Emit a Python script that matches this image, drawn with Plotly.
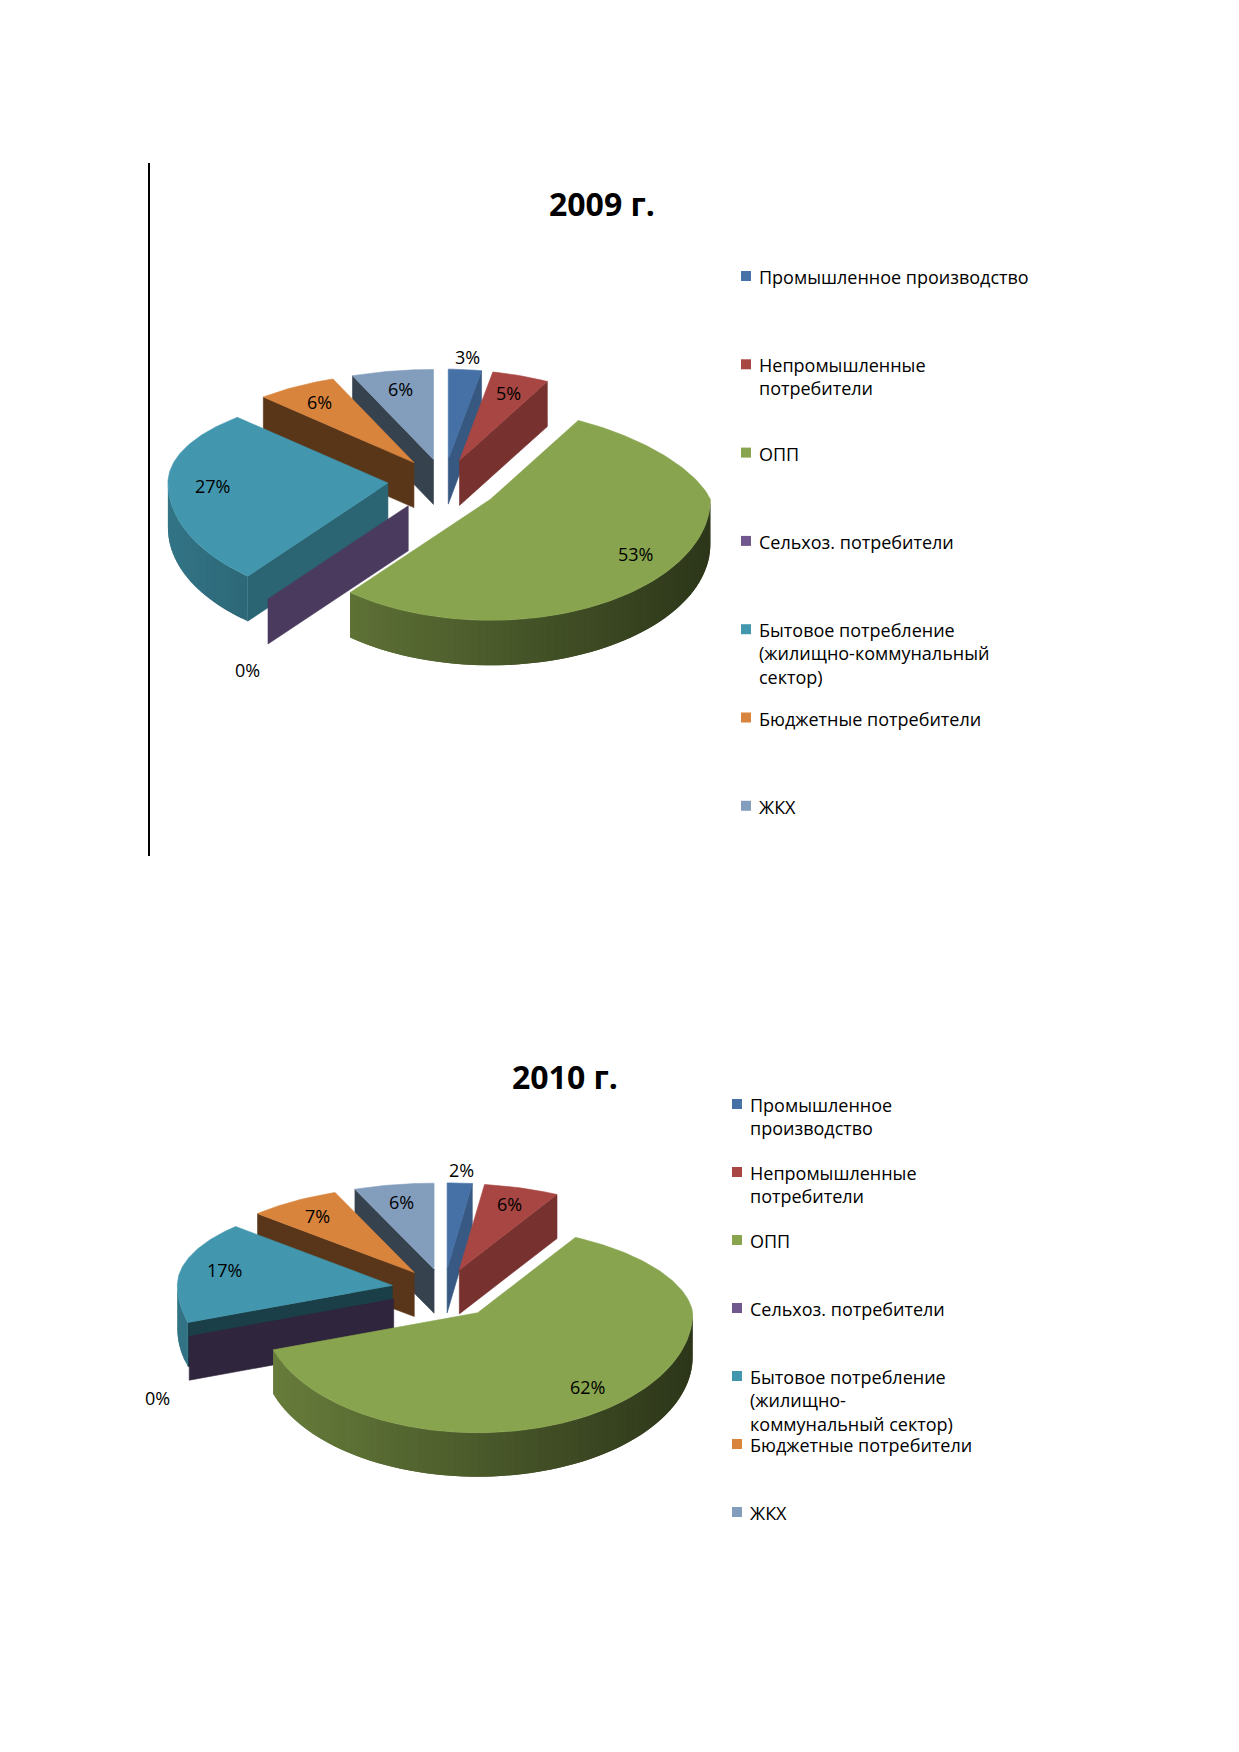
import numpy as np
import plotly.graph_objects as go

# ---------- данные ----------
categories = ["Промышленное производство", "Непромышленные потребители", "ОПП",
              "Сельхоз. потребители", "Бытовое потребление (жилищно-коммунальный сектор)",
              "Бюджетные потребители", "ЖКХ"]
share_2009 = [3, 5, 53, 0, 27, 6, 6]
share_2010 = [2, 6, 62, 0, 17, 7, 6]
legend_2009 = ["Промышленное производство", "Непромышленные<br>потребители", "ОПП",
               "Сельхоз. потребители", "Бытовое потребление<br>(жилищно-коммунальный<br>сектор)",
               "Бюджетные потребители", "ЖКХ"]
legend_2010 = ["Промышленное<br>производство", "Непромышленные<br>потребители", "ОПП",
               "Сельхоз. потребители", "Бытовое потребление<br>(жилищно-<br>коммунальный сектор)",
               "Бюджетные потребители", "ЖКХ"]
titles = ["2009 г.", "2010 г."]

# цвета Office + "освещение" верхней грани
base_colors = ["#4F81BD", "#C0504D", "#9BBB59", "#8064A2", "#4BACC6", "#F79646", "#95B3D7"]
LIT = 0.88
FONT = "Open Sans"

W, H = 1239, 1752
OFF = 8  # отступ body в html
fig = go.Figure()


def rgb(c, f=1.0):
    c = c.lstrip("#")
    r, g, b = (int(c[i:i + 2], 16) for i in (0, 2, 4))
    return "rgb(%d,%d,%d)" % (min(255, r * f), min(255, g * f), min(255, b * f))


def poly(xs, ys, color, name, lw=0.6):
    fig.add_trace(go.Scatter(x=xs, y=ys, mode="lines", fill="toself", fillcolor=color,
                             line=dict(color=color, width=lw), hoverinfo="skip",
                             showlegend=False, name=name))


def draw_pie(values, names, cx, cy, rx, ryb, ryf, depth, explode, kr):
    """псевдо-3D круговая диаграмма (как в Excel): секторы выдвинуты, есть боковые стенки"""
    total = float(sum(values))
    bounds = np.cumsum([0] + list(values)) / total * 2 * np.pi

    def ry(t):
        return ryb if np.cos(t) > 0 else ryf

    def rxx(t):
        # перспектива: задняя правая четверть сжата
        if np.cos(t) > 0 and np.sin(t) > 0:
            return rx - kr * np.cos(t)
        return rx

    def rim(t, ox, oy, r=1.0):
        return cx + ox + r * rxx(t) * np.sin(t), cy + oy - r * ry(t) * np.cos(t)

    slices = []
    for i, v in enumerate(values):
        a0, a1 = bounds[i], bounds[i + 1]
        mid = (a0 + a1) / 2
        ox = explode * rxx(mid) * np.sin(mid)
        oy = -explode * ry(mid) * np.cos(mid)
        slices.append((np.cos(mid), i, a0, a1, mid, ox, oy))

    for _, i, a0, a1, mid, ox, oy in sorted(slices, reverse=True):
        base = base_colors[i]
        tx, ty = cx + ox, cy + oy
        # радиальные срезы
        for ang, nrm, vis in ((a0, a0 - np.pi / 2, np.sin(a0) < 0),
                              (a1, a1 + np.pi / 2, np.sin(a1) > 0)):
            if vis:
                px, py = rim(ang, ox, oy)
                f = np.interp(np.degrees(nrm) % 360, [90, 130, 165, 250, 270],
                              [0.82, 0.66, 0.40, 0.42, 0.45])
                poly([tx, px, px, tx, tx], [ty, py, py + depth, ty + depth, ty],
                     rgb(base, LIT * f), names[i])
        # внешняя стенка (только передняя половина), с градиентом
        lo, hi = max(a0, np.pi / 2), min(a1, 3 * np.pi / 2)
        if hi > lo:
            n = max(1, int(np.degrees(hi - lo) / 2))
            ts = np.linspace(lo, hi, n + 1)
            for k in range(n):
                t0, t1 = ts[k], ts[min(k + 2, n)]
                seg = np.linspace(t0, t1, 4)
                pts = [rim(t, ox, oy) for t in seg]
                xs = [p[0] for p in pts] + [p[0] for p in pts[::-1]]
                ys = [p[1] for p in pts] + [p[1] + depth for p in pts[::-1]]
                f = 0.55 - 0.22 * np.sin((ts[k] + ts[k + 1]) / 2)
                poly(xs + [xs[0]], ys + [ys[0]], rgb(base, LIT * f), names[i], lw=0)
        # верхняя грань
        if a1 > a0:
            ts = np.linspace(a0, a1, max(2, int(np.degrees(a1 - a0)) + 1))
            pts = [rim(t, ox, oy) for t in ts]
            poly([tx] + [p[0] for p in pts] + [tx], [ty] + [p[1] for p in pts] + [ty],
                 rgb(base, LIT), names[i])

    # подписи долей
    for _, i, a0, a1, mid, ox, oy in slices:
        v = values[i]
        if v >= 4:
            x, y = rim(mid, 0, 0, explode + 0.8)
        else:
            x, y = rim(mid, 0, 0, 1.4)
            if np.cos(mid) < 0:
                y += depth + 12
        fig.add_annotation(x=x, y=y, text="%d%%" % v, showarrow=False,
                           font=dict(family=FONT, size=18, color="black"))


def draw_legend(labels, mx, y0, step):
    ys = [y0 + k * step for k in range(len(labels))]
    fig.add_trace(go.Scatter(x=[mx] * len(labels), y=ys, mode="markers",
                             marker=dict(symbol="square", size=10,
                                         color=[rgb(c, LIT) for c in base_colors]),
                             hoverinfo="skip", showlegend=False))
    for lab, y in zip(labels, ys):
        fig.add_annotation(x=mx + 11, y=y - 13, text=lab, showarrow=False, align="left",
                           xanchor="left", yanchor="top",
                           font=dict(family=FONT, size=18, color="black"))


draw_pie(share_2009, categories, cx=444, cy=482, rx=220, ryb=90, ryf=121, depth=45,
         explode=0.255, kr=43)
draw_pie(share_2010, categories, cx=444, cy=1290, rx=215, ryb=86, ryf=120, depth=44,
         explode=0.246, kr=14)
draw_legend(legend_2009, 746, 276, 88.3)
draw_legend(legend_2010, 737, 1104, 68)

fig.add_annotation(x=602, y=203, text="<b>%s</b>" % titles[0], showarrow=False,
                   font=dict(family=FONT, size=32, color="black"))
fig.add_annotation(x=565, y=1076, text="<b>%s</b>" % titles[1], showarrow=False,
                   font=dict(family=FONT, size=32, color="black"))

# левая граница рамки первой диаграммы
fig.add_shape(type="line", x0=149, x1=149, y0=163, y1=856, xref="x", yref="y",
              line=dict(color="black", width=2))

fig.update_layout(
    width=W, height=H,
    margin=dict(l=0, r=0, t=0, b=0),
    paper_bgcolor="white", plot_bgcolor="white",
    showlegend=False,
    xaxis=dict(range=[OFF, W + OFF], visible=False, fixedrange=True),
    yaxis=dict(range=[H + OFF, OFF], visible=False, fixedrange=True),
)

fig.write_html("out.html")
